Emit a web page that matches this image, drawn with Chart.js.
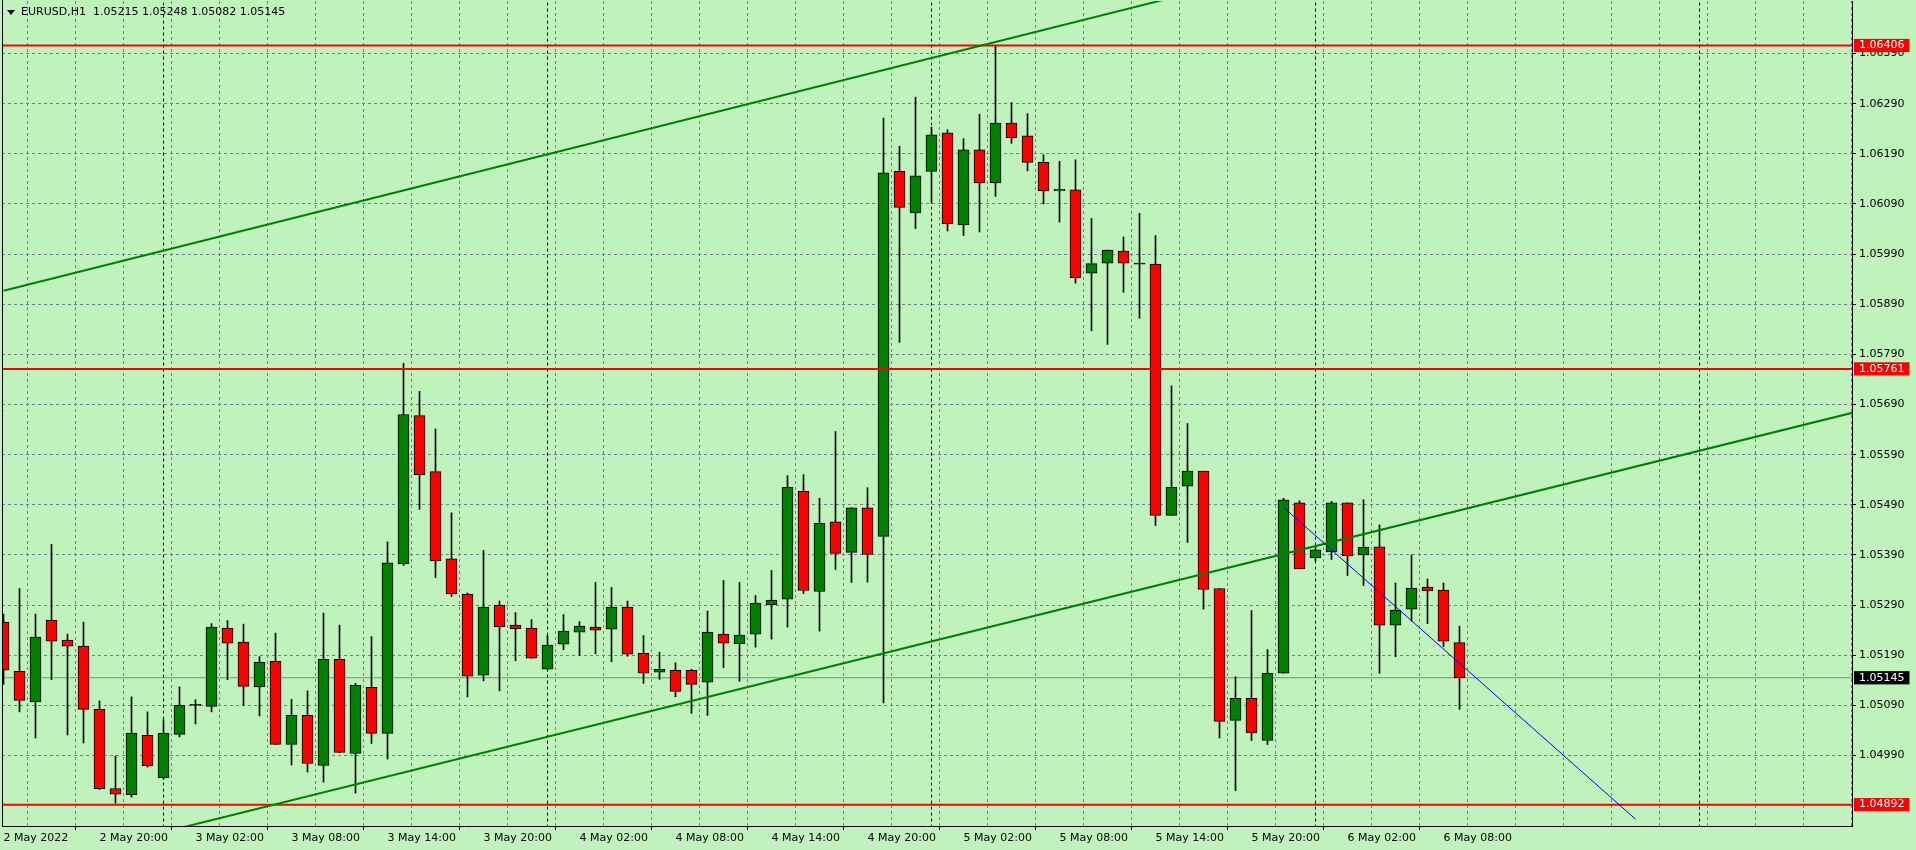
<!DOCTYPE html>
<html><head><meta charset="utf-8">
<script src="https://cdn.jsdelivr.net/npm/chart.js@4.4.1/dist/chart.umd.min.js"></script>
<style>html,body{margin:0;padding:0;background:#bff3bb;overflow:hidden}#wrap{width:1916px;height:850px;position:relative}</style>
</head><body><div id="wrap"><canvas id="c"></canvas></div>
<script>
// ---- data (EURUSD H1, bar 0 = 2 May 2022 14:00) ----
const opens  = [1.05256,1.05158,1.05097,1.05260,1.05220,1.05208,1.05082,1.04924,1.04912,1.05030,
                1.04946,1.05032,1.05090,1.05088,1.05244,1.05216,1.05127,1.05178,1.05012,1.05070,
                1.04970,1.05182,1.04994,1.05126,1.05034,1.05372,1.05668,1.05556,1.05382,1.05312,
                1.05150,1.05290,1.05250,1.05244,1.05162,1.05212,1.05236,1.05246,1.05242,1.05286,
                1.05194,1.05156,1.05160,1.05160,1.05136,1.05232,1.05213,1.05232,1.05291,1.05302,
                1.05517,1.05317,1.05456,1.05395,1.05484,1.05427,1.06155,1.06072,1.06155,1.06232,
                1.06048,1.06198,1.06132,1.06251,1.06226,1.06173,1.06116,1.06118,1.05952,1.05972,
                1.05996,1.05970,1.05970,1.05469,1.05527,1.05557,1.05323,1.05060,1.05104,1.05020,
                1.05154,1.05494,1.05384,1.05396,1.05494,1.05390,1.05406,1.05250,1.05282,1.05326,
                1.05320,1.05215];
const highs  = [1.05272,1.05323,1.05272,1.05411,1.05232,1.05256,1.05099,1.04989,1.05107,1.05077,
                1.05061,1.05127,1.05101,1.05253,1.05259,1.05252,1.05187,1.05234,1.05102,1.05119,
                1.05274,1.05250,1.05134,1.05227,1.05416,1.05772,1.05716,1.05641,1.05474,1.05314,
                1.05399,1.05298,1.05275,1.05261,1.05229,1.05271,1.05257,1.05335,1.05325,1.05298,
                1.05229,1.05196,1.05175,1.05162,1.05278,1.05339,1.05335,1.05309,1.05359,1.05548,
                1.05550,1.05503,1.05636,1.05484,1.05524,1.06261,1.06205,1.06303,1.06243,1.06238,
                1.06220,1.06269,1.06406,1.06292,1.06270,1.06188,1.06175,1.06178,1.06061,1.05998,
                1.06024,1.06071,1.06027,1.05727,1.05652,1.05557,1.05323,1.05147,1.05279,1.05201,
                1.05503,1.05498,1.05405,1.05497,1.05494,1.05500,1.05450,1.05334,1.05390,1.05342,
                1.05334,1.05248];
const lows   = [1.05132,1.05077,1.05025,1.05141,1.05031,1.05015,1.04922,1.04895,1.04907,1.04967,
                1.04943,1.05027,1.05053,1.05077,1.05141,1.05090,1.05069,1.05012,1.04971,1.04957,
                1.04937,1.04996,1.04915,1.05014,1.04983,1.05369,1.05481,1.05345,1.05307,1.05107,
                1.05139,1.05119,1.05179,1.05184,1.05162,1.05201,1.05189,1.05193,1.05177,1.05188,
                1.05134,1.05142,1.05107,1.05074,1.05070,1.05165,1.05138,1.05206,1.05222,1.05246,
                1.05313,1.05238,1.05361,1.05335,1.05336,1.05095,1.05814,1.06041,1.06092,1.06036,
                1.06027,1.06034,1.06105,1.06211,1.06156,1.06090,1.06054,1.05932,1.05837,1.05810,
                1.05914,1.05862,1.05449,1.05469,1.05415,1.05282,1.05025,1.04920,1.05020,1.05012,
                1.05154,1.05362,1.05378,1.05381,1.05349,1.05329,1.05154,1.05187,1.05258,1.05253,
                1.05207,1.05082];
const closes = [1.05160,1.05100,1.05226,1.05218,1.05208,1.05082,1.04924,1.04913,1.05034,1.04969,
                1.05034,1.05090,1.05090,1.05246,1.05214,1.05128,1.05176,1.05012,1.05070,1.04974,
                1.05182,1.04996,1.05130,1.05034,1.05374,1.05670,1.05550,1.05378,1.05312,1.05148,
                1.05286,1.05247,1.05243,1.05184,1.05210,1.05238,1.05248,1.05240,1.05286,1.05192,
                1.05154,1.05162,1.05118,1.05132,1.05236,1.05214,1.05230,1.05294,1.05300,1.05525,
                1.05319,1.05453,1.05393,1.05484,1.05391,1.06152,1.06083,1.06146,1.06228,1.06050,
                1.06198,1.06132,1.06251,1.06222,1.06173,1.06116,1.06119,1.05943,1.05971,1.05998,
                1.05972,1.05970,1.05469,1.05525,1.05557,1.05321,1.05058,1.05104,1.05035,1.05154,
                1.05500,1.05362,1.05400,1.05494,1.05388,1.05405,1.05250,1.05280,1.05324,1.05318,
                1.05218,1.05145];
const timeLabels = ['2 May 2022','2 May 20:00','3 May 02:00','3 May 08:00','3 May 14:00','3 May 20:00',
                    '4 May 02:00','4 May 08:00','4 May 14:00','4 May 20:00','5 May 02:00','5 May 08:00',
                    '5 May 14:00','5 May 20:00','6 May 02:00','6 May 08:00'];
const priceTicks = [1.04990,1.05090,1.05190,1.05290,1.05390,1.05490,1.05590,1.05690,
                    1.05790,1.05890,1.05990,1.06090,1.06190,1.06290,1.06390];
const levelPrices = [1.06406, 1.05761, 1.04892];
const daySeparators = [10, 34, 58, 82, 106];
const channelUpper = [[0, 1.05917], [80, 1.06557]];
const channelLower = [[0, 1.04758], [116, 1.05677]];
const blueTrend = [[80, 1.05485], [102, 1.04863]];
const symbolName = 'EURUSD,H1';

// ---- derived ----
const last = closes.length - 1;
const bidPrice = closes[last];
const titleText = symbolName + '  ' + [opens[last], highs[last], lows[last], closes[last]].map(v => v.toFixed(5)).join(' ');
const LABEL_STEP = 6, GRID_STEP = 3;
const FONT = {family: '"DejaVu Sans", sans-serif', size: 11};
const GRID = '#6f7d8c', CLEAR = 'rgba(0,0,0,0)';
const X_MIN = -0.09375, X_MAX = 115.53125;
const Y_MAX = 1.0649470, Y_MIN = 1.0484940;
const TITLE_WIDTH = 267;

const isSpecial = v => levelPrices.includes(v) || v === bidPrice;
const labelFor = v => (v % LABEL_STEP === 0 && v / LABEL_STEP < timeLabels.length) ? timeLabels[v / LABEL_STEP] : '';

const lineDs = (pts, color, width, dash, order) => ({
  type: 'line', data: pts.map(p => ({x: p[0], y: p[1]})), borderColor: color, borderWidth: width,
  borderDash: dash || [], pointRadius: 0, tension: 0, fill: false, clip: 0, order: order
});

const datasets = [];
daySeparators.forEach(d => datasets.push(lineDs([[d, 1.0], [d, 1.2]], '#000', 1, [3, 3], 20)));
datasets.push(lineDs([[X_MIN, bidPrice], [X_MAX, bidPrice]], '#778899', 1, [], 19));
datasets.push({
  type: 'bar', data: lows.map((l, i) => ({x: i, y: [l, highs[i]]})), backgroundColor: '#000',
  barThickness: 1, grouped: false, borderWidth: 0, clip: 0, order: 10
});
datasets.push({
  type: 'bar', data: opens.map((o, i) => ({x: i, y: [o, closes[i]]})),
  backgroundColor: opens.map((o, i) => closes[i] > o ? '#008000' : (closes[i] < o ? '#ff0000' : '#000')),
  borderColor: '#000', borderWidth: 1, borderSkipped: false, barThickness: 11, minBarLength: 1,
  grouped: false, clip: 0, order: 9
});
levelPrices.forEach(p => datasets.push(lineDs([[X_MIN, p], [X_MAX, p]], '#ff0000', 2, [], 2)));
datasets.push(lineDs(channelUpper, '#008000', 2, [], 1));
datasets.push(lineDs(channelLower, '#008000', 2, [], 1));
datasets.push(lineDs(blueTrend, '#0000ff', 1, [], 0));

const framePlugin = {
  id: 'frame',
  afterDraw(chart) {
    const {ctx, chartArea: a} = chart;
    ctx.save();
    ctx.strokeStyle = '#000'; ctx.lineWidth = 1;
    ctx.beginPath(); ctx.moveTo(a.left + 0.5, 0); ctx.lineTo(a.left + 0.5, a.bottom + 1); ctx.stroke();
    ctx.fillStyle = '#000';
    ctx.beginPath(); ctx.moveTo(7, 10); ctx.lineTo(15, 10); ctx.lineTo(11, 15); ctx.closePath(); ctx.fill();
    ctx.font = Chart.helpers.toFont(FONT).string;
    ctx.textBaseline = 'middle'; ctx.textAlign = 'left';
    const w = ctx.measureText(titleText).width;
    ctx.translate(21, 12.5);
    if (w > 0 && Math.abs(w - TITLE_WIDTH) > 4) ctx.scale(TITLE_WIDTH / w, 1);
    ctx.fillText(titleText, 0, 0);
    ctx.restore();
  }
};

new Chart(document.getElementById('c'), {
  type: 'bar',
  data: {datasets},
  options: {
    responsive: true, maintainAspectRatio: false, animation: false, events: [],
    layout: {padding: {left: 2, top: 1, right: 0, bottom: 0}},
    plugins: {legend: {display: false}, tooltip: {enabled: false}},
    scales: {
      x: {
        type: 'linear', position: 'bottom', min: X_MIN, max: X_MAX, offset: false,
        afterBuildTicks: s => { const t = []; for (let v = 0; v <= s.max; v += GRID_STEP) t.push({value: v}); s.ticks = t; },
        afterFit: s => { s.height = 24; s.paddingLeft = 0; s.paddingRight = 0; },
        grid: {
          color: c => (c.tick && c.tick.value === 0) ? CLEAR : GRID, lineWidth: 1,
          drawTicks: true, tickLength: 4,
          tickColor: c => (c.tick && labelFor(c.tick.value) !== '') ? '#000' : CLEAR
        },
        border: {display: true, color: '#000', width: 1, dash: [3, 3]},
        ticks: {autoSkip: false, maxRotation: 0, minRotation: 0, align: 'start', padding: 2,
                color: '#000', font: FONT, callback: v => labelFor(v)}
      },
      y: {
        type: 'linear', position: 'right', min: Y_MIN, max: Y_MAX,
        afterBuildTicks: s => { s.ticks = priceTicks.concat([bidPrice], levelPrices).map(v => ({value: v})); },
        afterFit: s => { s.width = 64; s.paddingTop = 0; s.paddingBottom = 0; },
        grid: {
          color: c => (c.tick && isSpecial(c.tick.value)) ? CLEAR : GRID, lineWidth: 1,
          drawTicks: true, tickLength: 4,
          tickColor: c => (c.tick && isSpecial(c.tick.value)) ? CLEAR : '#000'
        },
        border: {display: true, color: '#000', width: 1, dash: [3, 3]},
        ticks: {
          autoSkip: false, padding: 3, font: FONT,
          color: c => (c.tick && isSpecial(c.tick.value)) ? '#ffffff' : '#000',
          showLabelBackdrop: true,
          backdropColor: c => !c.tick ? CLEAR : (levelPrices.includes(c.tick.value) ? '#ff0000' : (c.tick.value === bidPrice ? '#000' : CLEAR)),
          backdropPadding: {left: 5, right: 5, top: 0, bottom: 0},
          callback: v => Number(v).toFixed(5)
        }
      }
    }
  },
  plugins: [framePlugin]
});
</script></body></html>
